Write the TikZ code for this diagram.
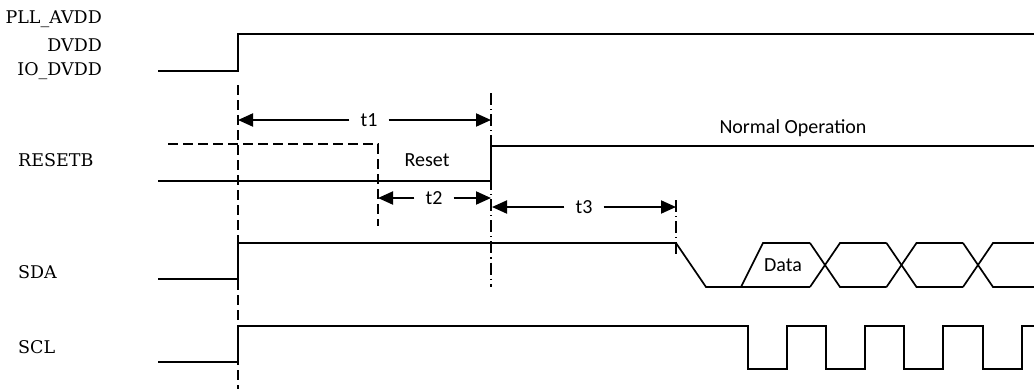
\documentclass[tikz,border=0pt]{standalone}
\usepackage{fontspec}
\setmainfont{DejaVu Serif}
\setsansfont{Carlito}
\usetikzlibrary{positioning,calc}
\usetikzlibrary{arrows.meta}
\tikzset{
	sig/.style={draw=black,line width=1.7pt},
	guide/.style={draw=black,line width=1.5pt,dash pattern=on 10pt off 5pt},
	guidedot/.style={draw=black,line width=1.5pt,dash pattern=on 12pt off 4pt on 1.2pt off 4pt},
	dim/.style={draw=black,line width=2pt,-{Triangle[length=15pt,width=13pt]}},
	pin/.style={font=\fontsize{17.5}{21}\selectfont,inner sep=0pt},
	note/.style={font=\sffamily\fontsize{20}{24}\selectfont,inner sep=0pt},
	tlab/.style={font=\sffamily\fontsize{20}{24}\selectfont,inner xsep=11pt,inner ysep=0pt},
}
\begin{document}
\begin{tikzpicture}[x=1pt,y=-1pt]
	\useasboundingbox (0,0) rectangle (1034,389);
	\node[pin,anchor=east] (pll) at (102,19) {PLL\_AVDD};
	\node[pin,anchor=east] (dvdd) at (102,45) {DVDD};
	\node[pin,anchor=east] (iodvdd) at (102,71) {IO\_DVDD};
	\foreach \n/\t/\y in {rstb/RESETB/160,sda/SDA/272,scl/SCL/347}
	\node[pin,anchor=west] (\n) at (18,\y) {\t};
	\node[note] (reset) at (427,160) {Reset};
	\node[note] (normal) at (793,128) {Normal Operation};
	\node[note] (data) at (783,265) {Data};
	\draw[sig] (158,71) -- (238,71) -- (238,34) -- (1034,34);
	\draw[sig] (158,181) -- (491,181) -- (491,146) -- (1034,146);
	\draw[guide] (168,144) -| (378,226);
	\draw[sig] (158,279) -- (238,279) -- (238,243) -- (676,243) -- (706,287) -- (741,287)
		-- (763,243) -- (810,243);
	\draw[sig] (741,287) -- (810,287);
	\foreach \a in {810,886.5,963}{
		\draw[sig] (\a,243) -- (\a+30,287) -- (\a+76.5,287);
		\draw[sig] (\a,287) -- (\a+30,243) -- (\a+76.5,243);
	}
	\draw[sig] (158,362) -- (238,362) -- (238,326)
		foreach \f in {748,826,904,983}{ -- (\f,326) -- (\f,369) -- (\f+39,369) -- (\f+39,326)} -- (1034,326);
	\draw[guide] (238,85) -- (238,389);
	\draw[guidedot] (491,93) -- (491,287);
	\draw[guidedot] (676,200) -- (676,255);
	\coordinate (t1l) at (238,120);
	\coordinate (t1r) at (491,120);
	\coordinate (t2l) at (378,198);
	\coordinate (t2r) at (491,198);
	\coordinate (t3l) at (492,207);
	\coordinate (t3r) at (676,207);
	\node[tlab] (t1) at (369,120) {t1};
	\node[tlab] (t2) at (434,198) {t2};
	\node[tlab] (t3) at (584,207) {t3};
	\foreach \t in {t1,t2,t3}{
		\draw[dim] (\t) -- (\t l);
		\draw[dim] (\t) -- (\t r);
	}
\end{tikzpicture}
\end{document}
